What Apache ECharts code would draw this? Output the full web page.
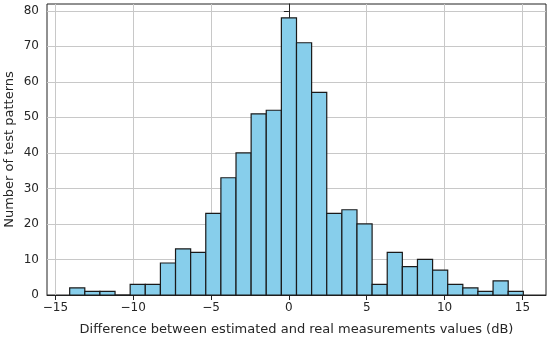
<!DOCTYPE html>
<html>
<head>
<meta charset="utf-8">
<script src="https://cdn.jsdelivr.net/npm/echarts@6/dist/echarts.min.js"></script>
<style>html,body{margin:0;padding:0;background:#fff}#c{width:550px;height:340px}</style>
</head>
<body>
<div id="c"></div>
<script>
// Histogram: 30 bins between data minimum and maximum
const dataMin = -14.08;
const dataMax = 15.06;
const counts = [2, 1, 1, 0, 3, 3, 9, 13, 12, 23, 33, 40, 51, 52, 78, 71, 57, 23, 24, 20, 3, 12, 8, 10, 7, 3, 2, 1, 4, 1];
const xTicks = [-15, -10, -5, 0, 5, 10, 15];
const yTicks = [0, 10, 20, 30, 40, 50, 60, 70, 80];
const xTitle = 'Difference between estimated and real measurements values (dB)';
const yTitle = 'Number of test patterns';

const nBins = counts.length;
const binW = (dataMax - dataMin) / nBins;
const bars = counts.map((c, i) => [dataMin + i * binW, dataMin + (i + 1) * binW, c]);
const span = dataMax - dataMin;
const xMin = dataMin - 0.05 * span, xMax = dataMax + 0.05 * span;
const yMax = Math.max(...counts) * 1.05;

const font = 'DejaVu Sans';
const txt = '#262626';
const chart = echarts.init(document.getElementById('c'), null, {renderer: 'canvas'});
chart.setOption({
  animation: false,
  backgroundColor: '#fff',
  grid: {left: 47, right: 4, top: 4, bottom: 45, containLabel: false, outerBoundsMode: 'none',
    show: true, borderColor: '#222', borderWidth: 1, backgroundColor: 'transparent'},
  xAxis: {
    type: 'value', min: xMin, max: xMax,
    name: xTitle, nameLocation: 'middle', nameGap: 28, nameMoveOverlap: false,
    nameTextStyle: {fontFamily: font, fontSize: 13, color: txt},
    axisLine: {show: true, onZero: false, lineStyle: {color: '#222'}},
    axisTick: {show: true, length: 5, lineStyle: {color: '#222'}, customValues: xTicks},
    axisLabel: {fontFamily: font, fontSize: 12, color: txt, margin: 7, customValues: xTicks,
      formatter: v => (v < 0 ? '\u2212' + Math.abs(v) : '' + v)},
    splitLine: {show: true, lineStyle: {color: '#c8c8c8', width: 1}},
    splitNumber: 6
  },
  yAxis: {
    type: 'value', min: 0, max: yMax, interval: 10,
    name: yTitle, nameLocation: 'middle', nameGap: 31, nameMoveOverlap: false,
    nameTextStyle: {fontFamily: font, fontSize: 13, color: txt},
    axisLine: {show: true, lineStyle: {color: '#222'}},
    axisTick: {show: true, length: 5, lineStyle: {color: '#222'}, customValues: yTicks},
    axisLabel: {fontFamily: font, fontSize: 12, color: txt, margin: 8, customValues: yTicks},
    splitLine: {show: true, lineStyle: {color: '#c8c8c8', width: 1}}
  },
  series: [{
    type: 'custom',
    data: bars,
    encode: {x: [0, 1], y: 2},
    renderItem: function (params, api) {
      const p0 = api.coord([api.value(0), 0]);
      const p1 = api.coord([api.value(1), api.value(2)]);
      return {
        type: 'rect',
        shape: {x: p0[0], y: p1[1], width: p1[0] - p0[0], height: p0[1] - p1[1]},
        style: {fill: '#87CEEB', stroke: '#1a1a1a', lineWidth: 1.2}
      };
    }
  }]
});
</script>
</body>
</html>
